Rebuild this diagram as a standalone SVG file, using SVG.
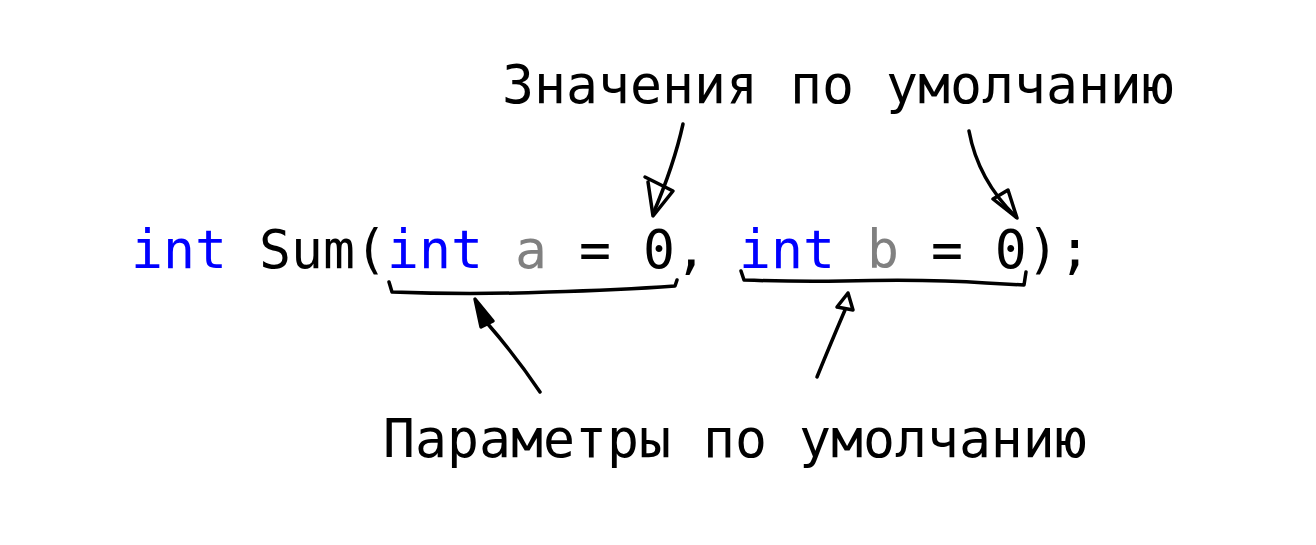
<svg xmlns="http://www.w3.org/2000/svg" width="1316" height="545" viewBox="0 0 1316 545">
<style>
  .t { font-family: "DejaVu Sans Mono", "Liberation Mono", monospace; font-size: 53.15px; fill: #000; }
  .kw { fill: #0000ff; }
  .par { fill: #808080; }
  .ink { fill: none; stroke: #000; stroke-width: 3.5; stroke-linecap: round; stroke-linejoin: round; }
  .head { fill: none; stroke: #000; stroke-width: 3.5; stroke-linejoin: round; stroke-linecap: round; }
  .headf { fill: #000; stroke: #000; stroke-width: 3.5; stroke-linejoin: round; }
</style>
<rect x="0" y="0" width="1316" height="545" fill="#fff"/>
<g id="label-values">
  <text class="t" x="502" y="103">Значения по умолчанию</text>
</g>
<g id="code">
  <text class="t" x="131" y="268" xml:space="preserve"><tspan class="kw">int</tspan> Sum(<tspan class="kw">int</tspan> <tspan class="par">a</tspan> = 0, <tspan class="kw">int</tspan> <tspan class="par">b</tspan> = 0);</text>
</g>
<g id="label-params">
  <text class="t" x="383" y="457">Параметры по умолчанию</text>
</g>
<g id="braces">
  <path class="ink" d="M389,282 L392,292 Q470,295 548,292 Q620,290 675,286 L677,280"/>
  <path class="ink" d="M741,271 L744,280 Q800,282 843,281 Q930,279 986,283 L1024,285 L1026,272"/>
</g>
<g id="connectors">
  <path class="ink" d="M683,124 Q674,165 653,214"/>
  <path class="head" d="M645,177 L673,191 L653,216 L648,182"/>
  <path class="ink" d="M969,131 Q978,180 1016,217"/>
  <path class="head" d="M993,199 L1008,190 L1017,218 Z"/>
  <path class="ink" d="M540,392 Q515,355 487,323"/>
  <path class="headf" d="M475,299 L481,327 L493,321 Z"/>
  <path class="ink" d="M817,377 Q830,345 845,310"/>
  <path class="head" d="M848,293 L837,307 L853,310 Z"/>
</g>
</svg>
